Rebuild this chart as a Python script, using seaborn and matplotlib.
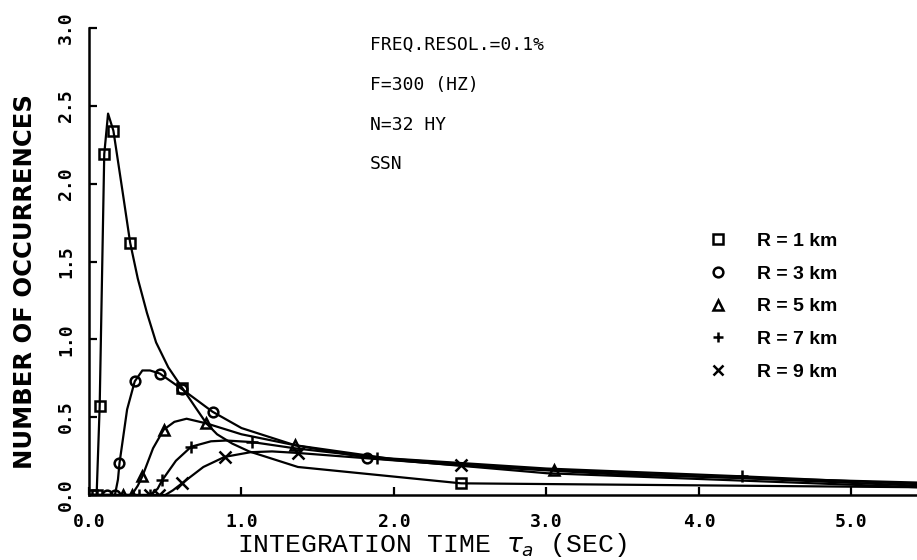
import numpy as np
import pandas as pd
import matplotlib
matplotlib.use("Agg")
import matplotlib.pyplot as plt
from matplotlib.lines import Line2D
import seaborn as sns

# ---- curves (tau_a in sec, occurrences) ----
r1_x = [0.0, 0.05, 0.07, 0.10, 0.125, 0.16, 0.22, 0.27, 0.32, 0.38, 0.44, 0.52, 0.61, 0.70, 0.77, 0.84, 0.94, 1.05, 1.37, 2.44, 5.43]
r1_y = [0.0, 0.0, 0.57, 2.19, 2.45, 2.34, 1.95, 1.62, 1.39, 1.17, 0.98, 0.82, 0.69, 0.56, 0.46, 0.39, 0.33, 0.28, 0.18, 0.075, 0.05]

r3_x = [0.0, 0.17, 0.19, 0.20, 0.25, 0.30, 0.35, 0.40, 0.465, 0.61, 0.81, 1.0, 1.35, 1.82, 3.0, 5.43]
r3_y = [0.0, 0.0, 0.10, 0.205, 0.55, 0.73, 0.80, 0.80, 0.78, 0.68, 0.535, 0.43, 0.32, 0.24, 0.14, 0.05]

r5_x = [0.0, 0.28, 0.32, 0.35, 0.42, 0.49, 0.56, 0.64, 0.77, 1.0, 1.35, 2.0, 3.05, 5.43]
r5_y = [0.0, 0.0, 0.06, 0.12, 0.30, 0.42, 0.47, 0.49, 0.46, 0.39, 0.32, 0.23, 0.16, 0.06]

r7_x = [0.0, 0.40, 0.45, 0.48, 0.57, 0.67, 0.80, 0.90, 1.07, 1.35, 1.89, 3.0, 4.28, 5.43]
r7_y = [0.0, 0.0, 0.04, 0.095, 0.22, 0.31, 0.345, 0.35, 0.34, 0.30, 0.24, 0.17, 0.12, 0.07]

r9_x = [0.0, 0.46, 0.50, 0.55, 0.61, 0.75, 0.89, 1.06, 1.20, 1.37, 1.90, 2.44, 3.5, 5.43]
r9_y = [0.0, 0.0, 0.0, 0.03, 0.075, 0.18, 0.245, 0.275, 0.28, 0.27, 0.23, 0.19, 0.13, 0.08]

# ---- plotted symbols ----
m1_x = [0.02, 0.05, 0.07, 0.10, 0.16, 0.27, 0.61, 2.44]
m1_y = [0.0, 0.0, 0.57, 2.19, 2.34, 1.62, 0.69, 0.075]
m3_x = [0.12, 0.17, 0.20, 0.30, 0.465, 0.61, 0.81, 1.82]
m3_y = [0.0, 0.0, 0.205, 0.73, 0.78, 0.68, 0.535, 0.24]
m5_x = [0.22, 0.28, 0.35, 0.49, 0.77, 1.35, 3.05]
m5_y = [0.0, 0.0, 0.12, 0.42, 0.46, 0.32, 0.16]
m7_x = [0.33, 0.40, 0.48, 0.67, 1.07, 1.89, 4.28]
m7_y = [0.0, 0.0, 0.095, 0.31, 0.34, 0.24, 0.12]
m9_x = [0.40, 0.46, 0.61, 0.89, 1.37, 2.44]
m9_y = [0.0, 0.0, 0.075, 0.245, 0.27, 0.19]

labels = ["R = 1 km", "R = 3 km", "R = 5 km", "R = 7 km", "R = 9 km"]
markers = ["s", "o", "^", "+", "x"]
notes = ["FREQ.RESOL.=0.1%", "F=300 (HZ)", "N=32 HY", "SSN"]
xticks = [0, 1, 2, 3, 4, 5]
yticks = [0.0, 0.5, 1.0, 1.5, 2.0, 2.5, 3.0]

curves = [(r1_x, r1_y), (r3_x, r3_y), (r5_x, r5_y), (r7_x, r7_y), (r9_x, r9_y)]
points = [(m1_x, m1_y), (m3_x, m3_y), (m5_x, m5_y), (m7_x, m7_y), (m9_x, m9_y)]

sns.set_style("ticks")
plt.rcParams["font.family"] = ["DejaVu Sans Mono", "DejaVu Sans"]
plt.rcParams["text.color"] = "black"
plt.rcParams["axes.labelcolor"] = "black"

fig = plt.figure(figsize=(9.17, 5.6), dpi=100)
ax = fig.add_axes([89 / 917, 65 / 560, 828 / 917, 467 / 560])

for (cx, cy), (px, py), mk in zip(curves, points, markers):
    df = pd.DataFrame({"t": cx, "n": cy})
    sns.lineplot(data=df, x="t", y="n", ax=ax, color="black", lw=1.6,
                 sort=False, estimator=None)
    open_mk = mk in ("s", "o", "^")
    ax.plot(px, py, ls="none", marker=mk, ms=7 if open_mk else 8,
            mew=1.8, mfc="none" if open_mk else "black", mec="black")

ax.set_xlim(0, 5.43)
ax.set_ylim(0, 3.0)
ax.set_xticks(xticks)
ax.set_xticklabels([f"{v:.1f}" for v in xticks])
ax.set_yticks(yticks)
ax.set_yticklabels([f"{v:.1f}" for v in yticks])
sns.despine(ax=ax)
for s in ("left", "bottom"):
    ax.spines[s].set_linewidth(1.8)
    ax.spines[s].set_color("black")
ax.tick_params(direction="in", length=6, width=1.6, colors="black",
               labelcolor="black")
ax.tick_params(axis="x", pad=13)
ax.tick_params(axis="y", pad=10)
for t in ax.get_xticklabels():
    t.set_fontweight("bold")
    t.set_fontsize(13)
for t in ax.get_yticklabels():
    t.set_fontweight("bold")
    t.set_fontsize(13)
    t.set_rotation(90)
    t.set_va("center")

ax.set_xlabel(r"INTEGRATION TIME $\tau_a$ (SEC)", family="Liberation Mono",
              fontsize=19)
ax.xaxis.set_label_coords(0.414, -0.078)
ax.set_ylabel("NUMBER OF OCCURRENCES", family="DejaVu Sans", fontweight="bold",
              fontsize=17.5)
ax.yaxis.set_label_coords(-0.063, 0.456)

for i, s in enumerate(notes):
    ax.text(1.84, 2.89 - 0.255 * i, s, fontsize=13, va="center", ha="left",
            family="DejaVu Sans Mono")

handles = [Line2D([], [], ls="none", marker=mk, ms=7, mew=1.8, color="black",
                  mfc="none" if mk in ("s", "o", "^") else "black")
           for mk in markers]
leg = ax.legend(handles, labels, loc="upper left", bbox_to_anchor=(0.727, 0.60),
                frameon=False, handlelength=1.0, handletextpad=1.5,
                labelspacing=0.78, prop={"family": "Liberation Sans",
                                         "weight": "bold", "size": 14})
for t in leg.get_texts():
    t.set_color("black")

fig.savefig("out.png", dpi=100)
